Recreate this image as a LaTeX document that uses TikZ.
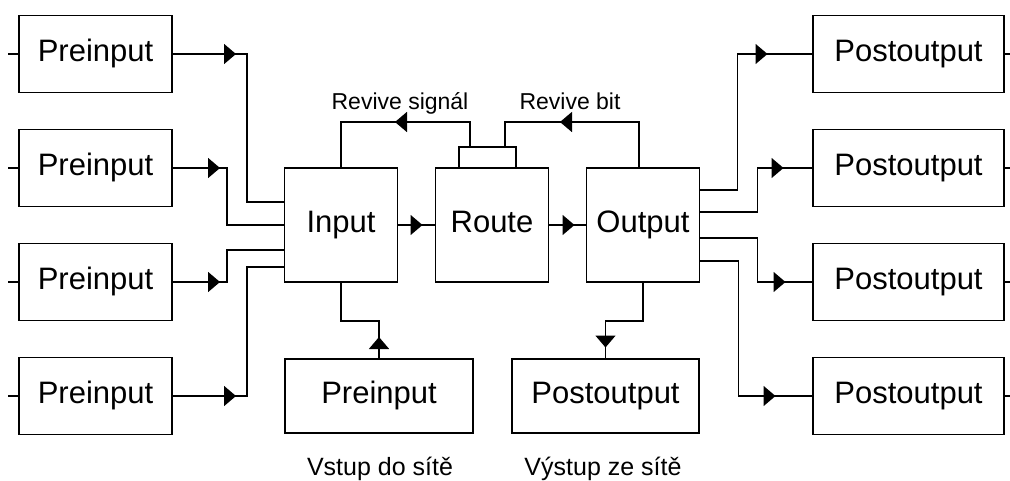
\documentclass[tikz,border=0pt]{standalone}
\usepackage{fontspec}
\setmainfont{Liberation Sans}
\usetikzlibrary{arrows.meta,decorations.markings,calc}

\tikzset{
  wire/.style={line width=1.6pt},
  box/.style={draw, line width=1.6pt, rectangle, inner sep=0pt, outer sep=0pt,
    text height=22pt, text depth=6.5pt,
    font=\fontsize{31}{31}\selectfont},
  side/.style={box, minimum width=153pt, minimum height=77pt},
  core/.style={box, minimum width=113pt, minimum height=114pt},
  tipat/.style={postaction={decorate, decoration={markings,
      mark=at position #1 with {\arrow{Triangle[length=12pt,width=20pt]}}}}},
  small/.style={font=\fontsize{23}{23}\selectfont, inner sep=0pt},
  note/.style={font=\fontsize{25}{25}\selectfont, inner sep=0pt},
}

\begin{document}
\begin{tikzpicture}[x=1pt, y=-1pt]
  \fill[white] (0,0) rectangle (1010,480);
  \useasboundingbox (0,0) rectangle (1010,480);

  % feeding preinputs (left column)
  \node[side] (L1) at (95.5,54)  {Preinput};
  \node[side] (L2) at (95.5,168) {Preinput};
  \node[side] (L3) at (95.5,282) {Preinput};
  \node[side] (L4) at (95.5,396) {Preinput};

  % core stages
  \node[core] (Input)  at (341,225)   {Input};
  \node[core] (Route)  at (492,225)   {Route};
  \node[core] (Output) at (643,225)   {Output};
  \node[draw, line width=1.6pt, inner sep=0pt, outer sep=0pt,
        minimum width=57pt, minimum height=21pt] (tab) at (487.5,157.5) {};

  % network entry / exit
  \node[box, minimum width=188pt, minimum height=74pt] (BP) at (379,396)   {Preinput};
  \node[box, minimum width=187pt, minimum height=74pt] (BO) at (605.5,396) {Postoutput};

  % postoutputs (right column)
  \node[side, minimum width=191pt] (R1) at (908.5,54)  {Postoutput};
  \node[side, minimum width=191pt] (R2) at (908.5,168) {Postoutput};
  \node[side, minimum width=191pt] (R3) at (908.5,282) {Postoutput};
  \node[side, minimum width=191pt] (R4) at (908.5,396) {Postoutput};

  % stubs on the outer edges
  \foreach \n in {L1,L2,L3,L4} \draw[wire] (\n.west) -- ++(-11,0);
  \foreach \n in {R1,R2,R3,R4} \draw[wire] (\n.east) -- ++(8,0);

  % preinputs into Input
  \draw[wire, tipat=64pt] (L1.east) -- ++(75,0) |- ([yshift=23pt]Input.west);
  \draw[wire, tipat=48pt] (L2.east) -- ++(55,0) |- (Input.west);
  \draw[wire, tipat=48pt] (L3.east) -- ++(55,0) |- ([yshift=-25pt]Input.west);
  \draw[wire, tipat=64pt] (L4.east) -- ++(75,0) |- ([yshift=-42pt]Input.west);

  % main chain
  \draw[wire, tipat=25pt] (Input.east) -- (Route.west);
  \draw[wire, tipat=26pt] (Route.east) -- (Output.west);

  % revive feedback loops
  \draw[wire, tipat=100pt] ([xshift=-17.5pt]tab.north) -- ++(0,-25) -| (Input.north);
  \draw[wire, tipat=125pt] ([xshift=-4pt]Output.north) -- ++(0,-46) -| ([xshift=17.5pt]tab.north);
  \node[small, anchor=base] (rs) at (400,109) {Revive signál};
  \node[small, anchor=base] (rb) at (570,109) {Revive bit};

  % network entry and exit
  \draw[wire, tipat=22pt] (BP.north) -- ++(0,-38) -| (Input.south);
  \draw[wire, tipat=103pt] (Output.south) -- ++(0,39) -| (BO.north);
  \node[note, anchor=base] (vin)  at (380,475) {Vstup do sítě};
  \node[note, anchor=base] (vout) at (603,475) {Výstup ze sítě};

  % Output to postoutputs
  \draw[wire, tipat=204pt] ([yshift=35pt]Output.east)  -- ++(38,0) |- (R1.west);
  \draw[wire, tipat=128pt] ([yshift=13pt]Output.east)  -- ++(58,0) |- (R2.west);
  \draw[wire, tipat=130pt] ([yshift=-13pt]Output.east) -- ++(58,0) |- (R3.west);
  \draw[wire, tipat=211pt] ([yshift=-36pt]Output.east) -- ++(39,0) |- (R4.west);
\end{tikzpicture}
\end{document}
